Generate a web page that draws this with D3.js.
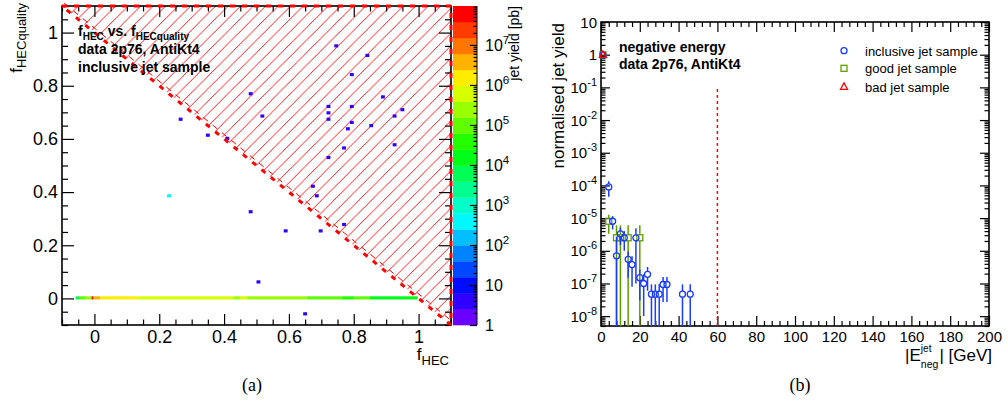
<!DOCTYPE html>
<html><head><meta charset="utf-8">
<script src="https://cdn.jsdelivr.net/npm/d3@7"></script>
<style>body{margin:0;background:#fff}svg{display:block}</style>
</head><body><svg id="c" width="1008" height="412"></svg>
<script>
// ---------------- LEFT PANEL DATA ----------------
const scatF = [0.747,0.846,0.794,0.484,0.886,0.724,0.794,0.945,0.724,0.717,0.925,0.514,0.794,0.786,0.853,0.925,0.775,0.717,0.675,0.686,0.477,0.595,0.694,0.775,0.268,0.355,0.414,0.508,0.646,0.235,-0.012];
const scatQ = [0.946,0.916,0.845,0.766,0.755,0.717,0.717,0.706,0.694,0.676,0.687,0.687,0.657,0.634,0.645,0.578,0.567,0.525,0.416,0.386,0.326,0.258,0.258,0.277,0.676,0.615,0.597,0.067,-0.061,0.386,0.996];
const scatYield = [4,4,4,4,4,4,4,4,4,4,4,4,4,4,4,4,4,4,4,4,4,4,4,4,4,4,4,4,4,400,400];
const stripFrom = [-0.058,-0.046,-0.028,-0.009,-0.003,0.018,0.132,0.428,0.449,0.471,0.655,0.763,0.803,0.849];
const stripTo   = [-0.046,-0.028,-0.009,-0.003,0.018,0.132,0.428,0.449,0.471,0.655,0.763,0.803,0.849,0.997];
const stripYield= [6e3,1e5,2.5e5,6e7,3.8e6,1.5e6,6e5,2.5e5,6e5,2.5e5,1e5,4e4,1e5,1.5e4];
const hatchF = [-0.1,1.1,1.1];
const hatchQ = [1.1,1.1,-0.1];
const zMax = 9.4e7;
const leftMajor = [0,0.2,0.4,0.6,0.8,1];
const leftMajorLabels = ["0","0.2","0.4","0.6","0.8","1"];
const zMajor = [1,10,1e2,1e3,1e4,1e5,1e6,1e7];
const zMajorExp = ["1","10","2","3","4","5","6","7"];

// ---------------- RIGHT PANEL DATA ----------------
const incE   = [1,4,6,8,10,12,14,16,18,20,22,24,26,28,30,32,34,42,46];
const incY   = [0.99,9e-5,8e-6,7e-7,3.3e-6,2.5e-6,5.5e-7,3.8e-7,2.5e-6,1.5e-7,1e-7,1.9e-7,4.7e-8,4.7e-8,4.7e-8,9.3e-8,9.3e-8,4.7e-8,4.7e-8];
const incErr = [0.005,4.5e-5,3.5e-6,2.0e-6,1.8e-6,1.5e-6,4e-7,3e-7,2.4e-6,1.2e-7,9e-8,1.3e-7,4.7e-8,4.7e-8,4.7e-8,6.6e-8,6.6e-8,4.7e-8,4.7e-8];
const goodE   = [1,4,8,10,14,20];
const goodY   = [0.99,8e-6,2.5e-6,2.5e-6,2.5e-6,2.5e-6];
const goodErr = [0.005,4.7e-6,3.5e-6,3.5e-6,3.5e-6,3.5e-6];
const badE   = [1];
const badY   = [1.0];
const badErr = [0.005];
const cutE = 60, cutTop = 0.1;
const rxMajor = [0,20,40,60,80,100,120,140,160,180,200];
const ryMajor = [10,1,1e-1,1e-2,1e-3,1e-4,1e-5,1e-6,1e-7,1e-8];
const ryExp   = ["10","1","-1","-2","-3","-4","-5","-6","-7","-8"];
const legendLabels = ["inclusive jet sample","good jet sample","bad jet sample"];

// ---------------- SETUP ----------------
const FONT = '"Liberation Sans", Arial, Helvetica, sans-serif';
const svg = d3.select("#c");
svg.append("rect").attr("width",1008).attr("height",412).attr("fill","#fff");
const defs = svg.append("defs");

function styleAxis(g, size){
  g.select(".domain").remove();
  g.selectAll(".tick line").attr("stroke","#000").attr("stroke-width",1.2);
  g.selectAll("text").attr("font-family",FONT).attr("font-size",size).attr("fill","#000");
}
function minorVals(lo,hi,step,major){
  const out=[]; for(let v=lo; v<=hi+1e-9; v+=step){ const r=Math.round(v*1000)/1000; if(!major.some(m=>Math.abs(m-r)<1e-6)) out.push(r);} return out;
}
function logMinors(lo,hi){ const out=[]; for(let e=Math.floor(Math.log10(lo)); e<=Math.ceil(Math.log10(hi)); e++){ for(let k=2;k<=9;k++){ const v=k*Math.pow(10,e); if(v>=lo&&v<=hi) out.push(v);} } return out; }

// ================= LEFT PANEL =================
const xL = d3.scaleLinear().domain([-0.1,1.1]).range([62,451]);
const yL = d3.scaleLinear().domain([-0.1,1.1]).range([325,6]);
const nBins=100, binLo=-0.1, bw=1.2/nBins, nCont=20;
const binStart = v => binLo + Math.floor((v-binLo)/bw+1e-9)*bw;
const bandColor = b => d3.hsl(265*(1-b/(nCont-1)),1,0.5).formatHex();
const zColor = v => bandColor(Math.max(0,Math.min(nCont-1,Math.floor(Math.log10(v)/Math.log10(zMax)*nCont))));

const gL = svg.append("g");
// hatch region
const pat = defs.append("pattern").attr("id","hatch").attr("patternUnits","userSpaceOnUse")
  .attr("width",12.5).attr("height",12.5).attr("x",9.2).attr("y",0);
pat.append("path").attr("d","M-1,1L1,-1M0,12.5L12.5,0M11.5,13.5L13.5,11.5").attr("stroke","#ff0000").attr("stroke-width",0.9).attr("fill","none");
const polyPts = hatchF.map((f,i)=>[xL(f),yL(hatchQ[i])]);
gL.append("polygon").attr("points",polyPts.map(p=>p.join(",")).join(" ")).attr("fill","url(#hatch)");

// strip at f_HECquality = 0
const y0b = binStart(0);
gL.selectAll("rect.strip").data(d3.range(stripFrom.length)).join("rect").attr("class","strip")
  .attr("x",i=>xL(stripFrom[i])).attr("width",i=>xL(stripTo[i])-xL(stripFrom[i]))
  .attr("y",yL(y0b+bw)).attr("height",yL(y0b)-yL(y0b+bw)).attr("fill",i=>zColor(stripYield[i]));
// scattered cells
gL.selectAll("rect.cell").data(d3.range(scatF.length)).join("rect").attr("class","cell")
  .attr("x",i=>xL(binStart(scatF[i]))).attr("width",i=>xL(binStart(scatF[i])+bw)-xL(binStart(scatF[i])))
  .attr("y",i=>yL(binStart(scatQ[i])+bw)).attr("height",i=>yL(binStart(scatQ[i]))-yL(binStart(scatQ[i])+bw))
  .attr("fill",i=>zColor(scatYield[i]));

// frame
gL.append("rect").attr("x",62).attr("y",6).attr("width",389).attr("height",319).attr("fill","none").attr("stroke","#000").attr("stroke-width",1.6);
// axes
const lxMinor = minorVals(-0.1,1.1,0.05,leftMajor);
gL.append("g").attr("transform","translate(0,325)").call(d3.axisBottom(xL).tickValues(leftMajor).tickSize(-11).tickPadding(5).tickFormat((d,i)=>leftMajorLabels[i])).call(g=>styleAxis(g,18));
gL.append("g").attr("transform","translate(0,325)").call(d3.axisBottom(xL).tickValues(lxMinor).tickSize(-5.5).tickFormat("")).call(g=>styleAxis(g,18));
gL.append("g").attr("transform","translate(0,6)").call(d3.axisTop(xL).tickValues(leftMajor).tickSize(-11).tickFormat("")).call(g=>styleAxis(g,18));
gL.append("g").attr("transform","translate(0,6)").call(d3.axisTop(xL).tickValues(lxMinor).tickSize(-5.5).tickFormat("")).call(g=>styleAxis(g,18));
gL.append("g").attr("transform","translate(62,0)").call(d3.axisLeft(yL).tickValues(leftMajor).tickSize(-12).tickPadding(4).tickFormat((d,i)=>leftMajorLabels[i])).call(g=>styleAxis(g,18));
gL.append("g").attr("transform","translate(62,0)").call(d3.axisLeft(yL).tickValues(lxMinor).tickSize(-6).tickFormat("")).call(g=>styleAxis(g,18));
gL.append("g").attr("transform","translate(451,0)").call(d3.axisRight(yL).tickValues(leftMajor).tickSize(-12).tickFormat("")).call(g=>styleAxis(g,18));
gL.append("g").attr("transform","translate(451,0)").call(d3.axisRight(yL).tickValues(lxMinor).tickSize(-6).tickFormat("")).call(g=>styleAxis(g,18));

// hatch boundary
const ang = Math.atan2(polyPts[2][1]-polyPts[0][1], polyPts[2][0]-polyPts[0][0]);
const off = 3.5, ox = Math.sin(ang)*off, oy = -Math.cos(ang)*off;
gL.append("path").attr("d",d3.line()([[polyPts[0][0]+ox,polyPts[0][1]+oy],[polyPts[2][0]+ox,polyPts[2][1]+oy]]))
  .attr("stroke","#ff0000").attr("stroke-width",1).attr("stroke-dasharray","6,6").attr("fill","none");
gL.append("path").attr("d",d3.line()(polyPts.concat([polyPts[0]]))).attr("stroke","#ff0000").attr("stroke-width",3)
  .attr("stroke-dasharray","5,7").attr("fill","none");

// color bar
const zS = d3.scaleLog().domain([1,zMax]).range([325,6]);
gL.selectAll("rect.band").data(d3.range(nCont)).join("rect").attr("class","band")
  .attr("x",453).attr("width",24)
  .attr("y",i=>zS(Math.pow(zMax,(i+1)/nCont))).attr("height",i=>zS(Math.pow(zMax,i/nCont))-zS(Math.pow(zMax,(i+1)/nCont))+0.3)
  .attr("fill",i=>bandColor(i));
gL.append("line").attr("x1",477).attr("x2",477).attr("y1",6).attr("y2",325).attr("stroke","#000").attr("stroke-width",1);
gL.append("g").attr("transform","translate(477,0)").call(d3.axisLeft(zS).tickValues(zMajor).tickSize(7).tickFormat("")).call(g=>styleAxis(g,16));
gL.append("g").attr("transform","translate(477,0)").call(d3.axisLeft(zS).tickValues(logMinors(1,zMax)).tickSize(3.5).tickFormat("")).call(g=>styleAxis(g,16));
zMajor.forEach((v,i)=>{
  const t = gL.append("text").attr("x",485).attr("y",zS(v)+6).attr("font-family",FONT).attr("font-size",16);
  if(i<2){ t.text(zMajorExp[i]); }
  else { t.append("tspan").text("10"); t.append("tspan").attr("dy",-7).attr("font-size",11.5).text(zMajorExp[i]); }
});
gL.append("text").attr("transform","translate(519,6) rotate(-90)").attr("text-anchor","end")
  .attr("font-family",FONT).attr("font-size",14).text("jet yield [pb]");

// axis titles
{
  const t = gL.append("text").attr("transform","translate(22,3) rotate(-90)").attr("text-anchor","end").attr("font-family",FONT).attr("font-size",17);
  t.append("tspan").text("f"); t.append("tspan").attr("dy",4).attr("font-size",13).text("HECquality");
  const t2 = gL.append("text").attr("x",449).attr("y",360).attr("text-anchor","end").attr("font-family",FONT).attr("font-size",17);
  t2.append("tspan").text("f"); t2.append("tspan").attr("dy",5).attr("font-size",13).text("HEC");
}
// annotation
{
  const a = gL.append("g").attr("font-family",FONT).attr("font-weight","bold").attr("font-size",14);
  const t = a.append("text").attr("x",78).attr("y",36);
  t.append("tspan").text("f"); t.append("tspan").attr("dy",3.5).attr("font-size",10).text("HEC");
  t.append("tspan").attr("dy",-3.5).text(" vs. f"); t.append("tspan").attr("dy",3.5).attr("font-size",10).text("HECquality");
  a.append("text").attr("x",78).attr("y",53.5).text("data 2p76, AntiKt4");
  a.append("text").attr("x",78).attr("y",71.5).text("inclusive jet sample");
}

// ================= RIGHT PANEL =================
const xR = d3.scaleLinear().domain([0,200]).range([601,989]);
const yR = d3.scaleLog().domain([5e-9,10]).range([326,22]);
const gR = svg.append("g");
const cBlue="#1a3cff", cGreen="#5f9e00", cRed="#ff0000";

gR.append("rect").attr("x",601).attr("y",22).attr("width",388).attr("height",304).attr("fill","none").attr("stroke","#000").attr("stroke-width",1.6);
const rxMinor = minorVals(0,200,4,rxMajor);
const ryMinor = logMinors(5e-9,10);
gR.append("g").attr("transform","translate(0,326)").call(d3.axisBottom(xR).tickValues(rxMajor).tickSize(-10).tickPadding(5).tickFormat(d=>String(d))).call(g=>styleAxis(g,15));
gR.append("g").attr("transform","translate(0,326)").call(d3.axisBottom(xR).tickValues(rxMinor).tickSize(-5).tickFormat("")).call(g=>styleAxis(g,15));
gR.append("g").attr("transform","translate(0,22)").call(d3.axisTop(xR).tickValues(rxMajor).tickSize(-10).tickFormat("")).call(g=>styleAxis(g,15));
gR.append("g").attr("transform","translate(0,22)").call(d3.axisTop(xR).tickValues(rxMinor).tickSize(-5).tickFormat("")).call(g=>styleAxis(g,15));
gR.append("g").attr("transform","translate(601,0)").call(d3.axisLeft(yR).tickValues(ryMajor).tickSize(-9).tickFormat("")).call(g=>styleAxis(g,15));
gR.append("g").attr("transform","translate(601,0)").call(d3.axisLeft(yR).tickValues(ryMinor).tickSize(-4.5).tickFormat("")).call(g=>styleAxis(g,15));
gR.append("g").attr("transform","translate(989,0)").call(d3.axisRight(yR).tickValues(ryMajor).tickSize(-9).tickFormat("")).call(g=>styleAxis(g,15));
gR.append("g").attr("transform","translate(989,0)").call(d3.axisRight(yR).tickValues(ryMinor).tickSize(-4.5).tickFormat("")).call(g=>styleAxis(g,15));
ryMajor.forEach((v,i)=>{
  const t = gR.append("text").attr("x",597).attr("y",yR(v)+5.5).attr("text-anchor","end").attr("font-family",FONT).attr("font-size",15);
  if(i<2) t.text(ryExp[i]);
  else { t.append("tspan").text("10"); t.append("tspan").attr("dy",-7).attr("font-size",11).text(ryExp[i]); }
});
// cut line
gR.append("line").attr("x1",xR(cutE)).attr("x2",xR(cutE)).attr("y1",yR(5e-9)).attr("y2",yR(cutTop))
  .attr("stroke","#dd1111").attr("stroke-width",1.5).attr("stroke-dasharray","3,3");

function drawSeries(E,Y,Er,color,shape){
  const g = gR.append("g");
  const bottom = yR.range()[0], top = yR.range()[1];
  E.forEach((e,i)=>{
    const x = xR(e), y = yR(Y[i]);
    const hi = Math.max(top, yR(Y[i]+Er[i]));
    const lo = (Y[i]-Er[i]) > 5e-9 ? yR(Y[i]-Er[i]) : bottom;
    const r = 3;
    if(hi < y-r) g.append("line").attr("x1",x).attr("x2",x).attr("y1",hi).attr("y2",y-r).attr("stroke",color).attr("stroke-width",1.5);
    if(lo > y+r) g.append("line").attr("x1",x).attr("x2",x).attr("y1",y+r).attr("y2",lo).attr("stroke",color).attr("stroke-width",1.5);
    drawMarker(g,x,y,color,shape);
  });
}
function drawMarker(g,x,y,color,shape){
  if(shape==="circle") g.append("circle").attr("cx",x).attr("cy",y).attr("r",3).attr("fill","none").attr("stroke",color).attr("stroke-width",1.3);
  else if(shape==="square") g.append("rect").attr("x",x-3).attr("y",y-3).attr("width",6).attr("height",6).attr("fill","none").attr("stroke",color).attr("stroke-width",1.3);
  else g.append("path").attr("d",`M${x},${y-3.8}L${x+3.5},${y+2.6}L${x-3.5},${y+2.6}Z`).attr("fill","none").attr("stroke",color).attr("stroke-width",1.3);
}
drawSeries(goodE,goodY,goodErr,cGreen,"square");
drawSeries(incE,incY,incErr,cBlue,"circle");
drawSeries(badE,badY,badErr,cRed,"triangle");

// texts
{
  const a = gR.append("g").attr("font-family",FONT).attr("font-weight","bold").attr("font-size",14);
  a.append("text").attr("x",619).attr("y",52).text("negative energy");
  a.append("text").attr("x",619).attr("y",69).text("data 2p76, AntiKt4");
  const cols=[cBlue,cGreen,cRed], shapes=["circle","square","triangle"], ly=[50.7,68.3,86.7];
  legendLabels.forEach((l,i)=>{
    drawMarker(gR,844,ly[i],cols[i],shapes[i]);
    gR.append("text").attr("x",865).attr("y",ly[i]+5).attr("font-family",FONT).attr("font-size",13).text(l);
  });
  gR.append("text").attr("transform","translate(564,23) rotate(-90)").attr("text-anchor","end").attr("font-family",FONT).attr("font-size",17).text("normalised jet yield");
  // x title |E^jet_neg| [GeV]
  const xt = gR.append("g").attr("font-family",FONT);
  const t1 = xt.append("text").attr("y",361).attr("font-size",17).text("|E");
  const w1 = t1.node().getComputedTextLength();
  const s1 = xt.append("text").attr("x",w1).attr("y",352).attr("font-size",10).text("jet");
  const s2 = xt.append("text").attr("x",w1).attr("y",368).attr("font-size",10.5).text("neg");
  const w2 = Math.max(s1.node().getComputedTextLength(), s2.node().getComputedTextLength());
  const t3 = xt.append("text").attr("x",w1+w2+1).attr("y",361).attr("font-size",17).text("| [GeV]");
  const wt = w1+w2+1+t3.node().getComputedTextLength();
  xt.attr("transform",`translate(${992-wt},0)`);
}

// captions
svg.append("text").attr("x",252).attr("y",391).attr("text-anchor","middle").attr("font-family",'"Liberation Serif", "Times New Roman", serif').attr("font-size",18).text("(a)");
svg.append("text").attr("x",800).attr("y",391).attr("text-anchor","middle").attr("font-family",'"Liberation Serif", "Times New Roman", serif').attr("font-size",18).text("(b)");
</script></body></html>
